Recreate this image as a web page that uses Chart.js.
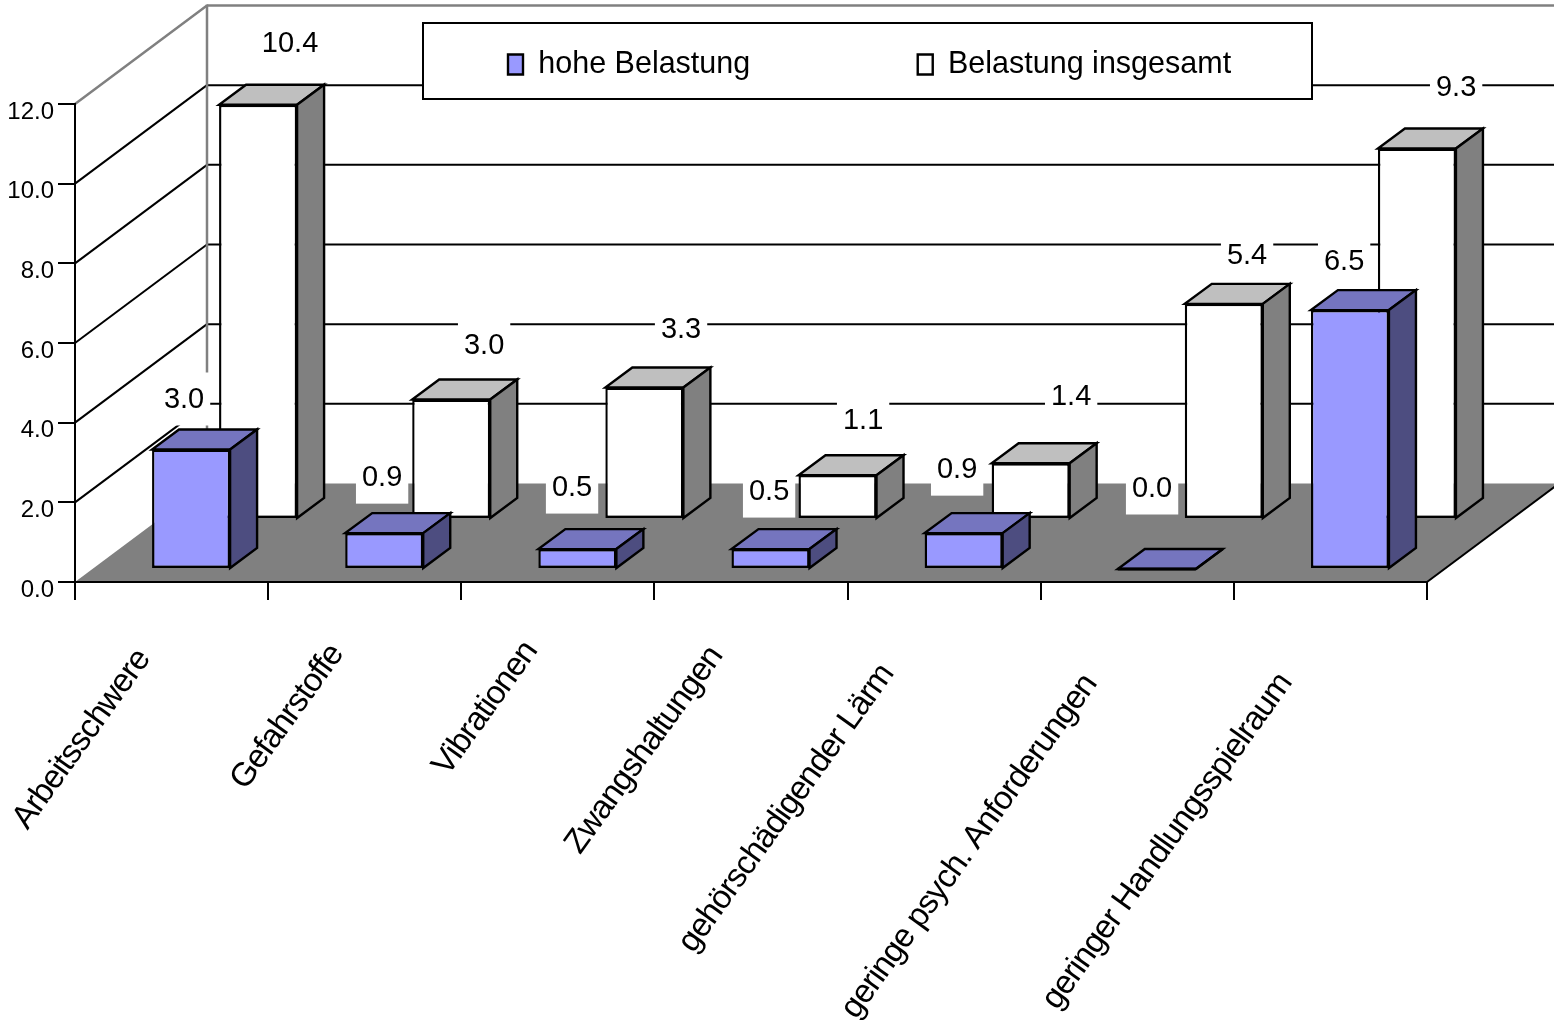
<!DOCTYPE html>
<html><head><meta charset="utf-8">
<style>html,body{margin:0;padding:0;background:#fff}canvas{display:block}</style>
<script src="https://cdn.jsdelivr.net/npm/chart.js@4"></script>
</head><body>
<canvas id="c" width="1554" height="1020"></canvas>
<script>
const categories = ["Arbeitsschwere","Gefahrstoffe","Vibrationen","Zwangshaltungen","gehörschädigender Lärm","geringe psych. Anforderungen","geringer Handlungsspielraum"];
const hoheBelastung = [3.0,0.9,0.5,0.5,0.9,0.0,6.5];
const belastungInsgesamt = [10.4,3.0,3.3,1.1,1.4,5.4,9.3];
const seriesNames = ["hohe Belastung","Belastung insgesamt"];

// Drawing settings (not data)
const FONT = "'Liberation Sans', Arial, sans-serif";
const WALL = {dx:132, dy:-98.5};
const BAR_DEPTH = {dx:27, dy:-20};
const SERIES_SHIFT = [{dx:19.5, dy:-13},{dx:86.5, dy:-63}];
const FACE = [{top:'#7575BF', side:'#4D4D80'},{top:'#BFBFBF', side:'#808080'}];
const LABEL_NUDGE = [
  [[-20.5,-30.5],[-15.6,-36],[-18.8,-42],[-14.9,-38],[-20,-44],[-18.2,-61],[-19.3,-29]],
  [[18.5,-41.8],[19.4,-34.5],[23.2,-38.6],[12.1,-35.2],[27,-47.2],[9.8,-28.9],[25.7,-41.6]]
];
const TICK_NUDGE = [[0,0],[0,-5],[1,-8],[-7,-3],[-29,15],[-19,25],[-17,24]];
const LEGEND_FRAME = {l:423, t:23, r:1312, b:99};
const LEGEND_PAD = 167.5;

class TiltedCategory extends Chart.CategoryScale {
  static id = 'tilted';
  static defaults = Chart.CategoryScale.defaults;
  drawLabels(area){
    const c = this.ctx; c.save(); c.letterSpacing = '-1px';
    const items = this.getLabelItems(area);
    items.forEach((it,i)=>{ if(!it._n){ it.options.translation[0]+=TICK_NUDGE[i][0]; it.options.translation[1]+=TICK_NUDGE[i][1]; it._n=true; } });
    super.drawLabels(area); c.restore();
  }
}
Chart.register(TiltedCategory);

function line(c,x1,y1,x2,y2,color,w){c.strokeStyle=color;c.lineWidth=w;c.beginPath();c.moveTo(x1,y1);c.lineTo(x2,y2);c.stroke();}
function poly(c,pts,fill){c.fillStyle=fill;c.strokeStyle='#000';c.lineWidth=2.4;c.lineJoin='miter';c.beginPath();
  pts.forEach((p,i)=>i?c.lineTo(p[0],p[1]):c.moveTo(p[0],p[1]));c.closePath();c.fill();c.stroke();}

const scene3d = {
  id:'scene3d',
  beforeLayout(chart){
    const lg = chart.legend;
    if (!lg._flat) { const f = lg.fit; lg.fit = function(){ f.call(this); this.height = 0; }; lg._flat = true; }
  },
  afterLayout(chart){
    const lg = chart.legend;
    lg.left = 508 - LEGEND_PAD; lg.right = 1400;
    lg.top = 64.5 - 15.25 - LEGEND_PAD; lg.bottom = 100;
  },
  beforeDraw(chart){
    const c = chart.ctx, y = chart.scales.y, a = chart.chartArea;
    c.save();
    const x0 = a.left, bx = x0 + WALL.dx, W = chart.width;
    y.ticks.forEach(t=>{
      const py = y.getPixelForValue(t.value);
      if (t.value === 0) return;
      const col = t.value === y.max ? '#808080' : '#000';
      const w = t.value === y.max ? 2.5 : 2;
      line(c,x0,py,bx,py+WALL.dy,col,w);
      line(c,bx,py+WALL.dy,W,py+WALL.dy,col,w);
    });
    line(c,bx,y.getPixelForValue(y.max)+WALL.dy-1,bx,a.bottom+WALL.dy,'#808080',2.5);
    const fy = a.bottom;
    c.fillStyle='#808080'; c.beginPath();
    c.moveTo(x0,fy); c.lineTo(bx,fy+WALL.dy); c.lineTo(a.right+WALL.dx,fy+WALL.dy); c.lineTo(a.right,fy); c.closePath(); c.fill();
    line(c,a.right,fy,a.right+WALL.dx,fy+WALL.dy,'#000',2);
    const F = LEGEND_FRAME;
    c.fillStyle='#fff'; c.fillRect(F.l,F.t,F.r-F.l,F.b-F.t);
    c.strokeStyle='#000'; c.lineWidth=2; c.strokeRect(F.l,F.t,F.r-F.l,F.b-F.t);
    c.restore();
  },
  beforeDatasetDraw(chart,args){
    const c = chart.ctx, s = SERIES_SHIFT[args.index], f = FACE[args.index], D = BAR_DEPTH;
    c.save(); c.translate(s.dx,s.dy);
    args.meta.data.forEach(el=>{
      const l = el.x - el.width/2, r = el.x + el.width/2, t = el.y, b = el.base;
      poly(c,[[l,t],[r,t],[r+D.dx,t+D.dy],[l+D.dx,t+D.dy]],f.top);
      poly(c,[[r,t],[r+D.dx,t+D.dy],[r+D.dx,b+D.dy],[r,b]],f.side);
      if (t === b) line(c,l,b,r,b,'#000',3);
    });
  },
  afterDatasetDraw(chart){ chart.ctx.restore(); },
  afterDatasetsDraw(chart){
    const c = chart.ctx;
    c.save(); c.font = '29px '+FONT; c.textAlign='center'; c.textBaseline='middle';
    chart.data.datasets.forEach((ds,di)=>{
      const meta = chart.getDatasetMeta(di), s = SERIES_SHIFT[di];
      meta.data.forEach((el,i)=>{
        const txt = ds.data[i].toFixed(1), n = LABEL_NUDGE[di][i];
        const cx = el.x + s.dx + BAR_DEPTH.dx/2 + n[0];
        const cy = el.y + s.dy + BAR_DEPTH.dy + n[1];
        const w = c.measureText(txt).width + 12, h = 53;
        c.fillStyle='#fff'; c.fillRect(cx-w/2,cy-h/2,w,h);
        c.fillStyle='#000'; c.fillText(txt,cx,cy+1);
      });
    });
    c.restore();
  }
};

new Chart(document.getElementById('c'),{
  type:'bar',
  data:{labels:categories,datasets:[
    {label:seriesNames[0],data:hoheBelastung,backgroundColor:'#9999FF',borderColor:'#000',borderWidth:2.4,borderSkipped:false,clip:false},
    {label:seriesNames[1],data:belastungInsgesamt,backgroundColor:'#FFFFFF',borderColor:'#000',borderWidth:2.4,borderSkipped:false,clip:false}
  ]},
  plugins:[scene3d],
  options:{
    responsive:false,animation:false,devicePixelRatio:1,
    layout:{padding:{top:104,right:127,left:0,bottom:0}},
    datasets:{bar:{grouped:false,categoryPercentage:1,barPercentage:0.404}},
    plugins:{
      tooltip:{enabled:false},
      legend:{display:true,position:'top',align:'start',labels:{
        boxWidth:15,boxHeight:20,padding:LEGEND_PAD,color:'#000',font:{family:FONT,size:30.5}}}
    },
    scales:{
      x:{type:'tilted',offset:true,
        afterFit(s){s.height=438;s.paddingLeft=0;s.paddingRight=0;},
        grid:{offset:true,drawOnChartArea:false,color:'#000',lineWidth:2,tickLength:18,tickColor:'#000'},
        border:{color:'#000',width:2},
        ticks:{autoSkip:false,minRotation:54.3,maxRotation:54.3,color:'#000',padding:42,labelOffset:-28,font:{family:FONT,size:33}}
      },
      y:{min:0,max:12,
        afterFit(s){s.width=75;s.paddingTop=0;s.paddingBottom=0;},
        grid:{drawOnChartArea:false,color:'#000',lineWidth:2,tickLength:17,tickColor:'#000'},
        border:{color:'#000',width:2},
        ticks:{stepSize:2,color:'#000',padding:4,labelOffset:8,font:{family:FONT,size:24},callback:v=>v.toFixed(1)}
      }
    }
  }
});
</script>
</body></html>
